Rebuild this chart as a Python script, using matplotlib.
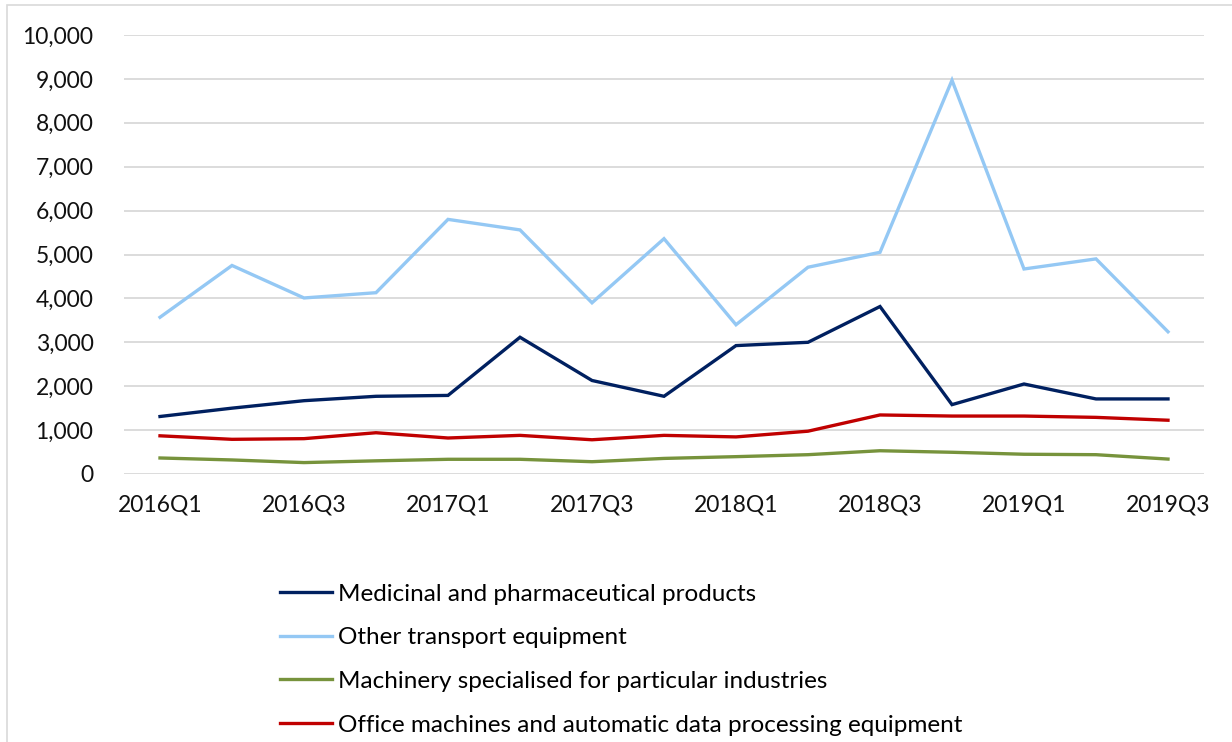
import numpy as np
import matplotlib
matplotlib.use("Agg")
import matplotlib.pyplot as plt
import matplotlib.patches as mpatches
from matplotlib.ticker import FuncFormatter

plt.rc('font', family=['Lato', 'DejaVu Sans'], size=16.5)

quarters = ['2016Q1', '2016Q2', '2016Q3', '2016Q4',
            '2017Q1', '2017Q2', '2017Q3', '2017Q4',
            '2018Q1', '2018Q2', '2018Q3', '2018Q4',
            '2019Q1', '2019Q2', '2019Q3']

medicinal = [1310, 1500, 1670, 1770, 1790, 3115, 2130, 1770,
             2925, 3000, 3815, 1580, 2050, 1710, 1710]
transport = [3570, 4750, 4010, 4130, 5800, 5560, 3900, 5360,
             3400, 4710, 5050, 8970, 4670, 4900, 3240]
machinery = [365, 320, 260, 300, 335, 335, 280, 355,
             395, 440, 530, 495, 450, 440, 340]
office = [870, 790, 805, 940, 820, 880, 780, 880,
          845, 975, 1345, 1320, 1320, 1290, 1225]

series = [
    ('Medicinal and pharmaceutical products', medicinal, '#002060'),
    ('Other transport equipment', transport, '#94C8F4'),
    ('Machinery specialised for particular industries', machinery, '#77933C'),
    ('Office machines and automatic data processing equipment', office, '#C00000'),
]

fig = plt.figure(figsize=(12.32, 7.42), dpi=100)
ax = fig.add_axes([124/1232, 1-474/742, (1204-124)/1232, (474-35)/742])

x = np.arange(len(quarters))
for name, vals, col in series:
    ax.plot(x, vals, color=col, lw=2.4, label=name, solid_joinstyle='miter')

ax.set_xlim(-0.5, len(quarters)-0.5)
ax.set_ylim(0, 10000)
ax.set_yticks(np.arange(0, 10001, 1000))
ax.yaxis.set_major_formatter(FuncFormatter(lambda v, p: '{:,.0f}'.format(v)))
ax.set_xticks(x[::2])
ax.set_xticklabels(quarters[::2])
ax.grid(axis='y', color='#D9D9D9', lw=1.3)
ax.set_axisbelow(True)
for s in ax.spines.values():
    s.set_visible(False)
ax.tick_params(length=0, colors='#111111')
ax.tick_params(axis='y', pad=22)
ax.tick_params(axis='x', pad=15)

# outer chart border
fig.patches.append(mpatches.Rectangle((7/1232, -0.1), 1.2, 1-5/742+0.1,
                                      transform=fig.transFigure, fill=False,
                                      edgecolor='#D9D9D9', lw=1.2))

fig.legend(loc='upper left', bbox_to_anchor=(270/1232, 1-574/742),
           frameon=False, fontsize=17.5, handlelength=2.15, handletextpad=0.25,
           labelspacing=0.93, borderaxespad=0)

fig.savefig('out.png', dpi=100)
